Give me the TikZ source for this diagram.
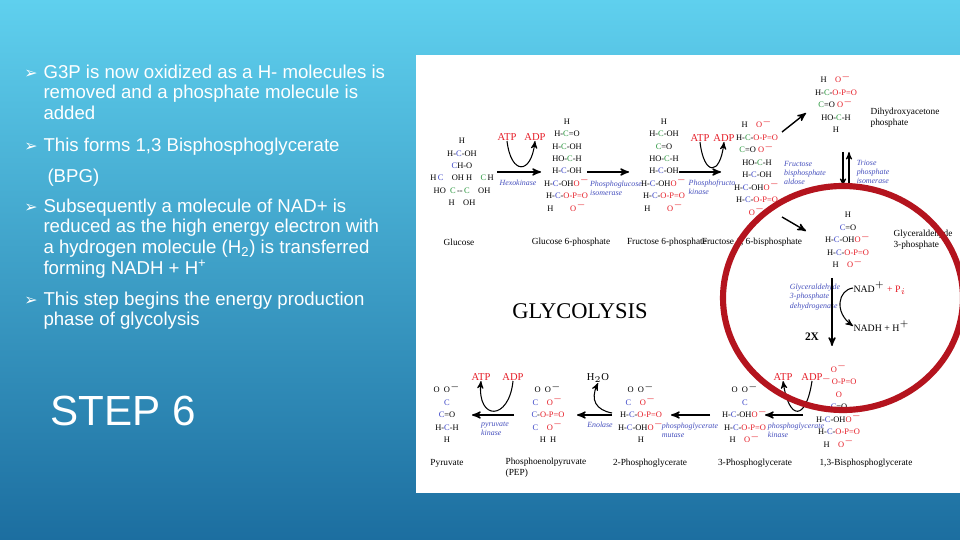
\documentclass[tikz,border=0pt]{standalone}
\usepackage{fontspec}
\setmainfont{Liberation Sans}
\newfontfamily\tms{Liberation Serif}
\newfontfamily\djv{DejaVu Sans}
\usetikzlibrary{arrows}
\definecolor{sky_top}{RGB}{95,208,238}
\definecolor{sky_bot}{RGB}{28,110,160}
\definecolor{c_green}{RGB}{40,150,60}
\definecolor{c_blue}{RGB}{60,70,200}
\definecolor{p_red}{RGB}{230,30,40}
\definecolor{enz_blue}{RGB}{70,80,190}
\definecolor{ring_red}{RGB}{180,20,30}
\newcommand\cg{\textcolor{c_green}{C}}
\newcommand\cb{\textcolor{c_blue}{C}}
\newcommand\rd[1]{\textcolor{p_red}{#1}}
\newcommand\phos{\rd{O-P=O}}
\hyphenpenalty=10000
\begin{document}
\begin{tikzpicture}[x=0.02cm,y=-0.02cm,>=stealth',semithick]
    \tikzstyle{bul}=[text=white,anchor=north west,align=left,inner sep=0,
      font=\fontsize{10.6}{11.9}\selectfont]
    \tikzstyle{mol}=[font=\tms\fontsize{4.8}{7.1}\selectfont,align=center,inner sep=0]
    \tikzstyle{lbl}=[font=\tms\fontsize{5.3}{6.2}\selectfont,align=left,inner sep=0]
    \tikzstyle{enz}=[font=\tms\itshape\fontsize{4.5}{5.2}\selectfont,text=enz_blue,align=left,inner sep=0]
    \tikzstyle{en}=[font=\tms\fontsize{6}{7}\selectfont,text=p_red,inner sep=0]
    \tikzstyle{rx}=[->,thick]

    % background and panel
    \useasboundingbox (0,0) rectangle (960,540);
    \shade[top color=sky_top,bottom color=sky_bot] (0,0) rectangle (960,540);
    \fill[white] (416,55) rectangle (960,493);

    % bullet text
    \foreach \n/\y in {1/64,2/137,3/198,4/291}
      \node[text=white,font=\djv\fontsize{9}{10}\selectfont] (b\n) at (31,\y+10) {➢};
    \node[bul] (t1) at (43,64) {G3P is now oxidized as a H- molecules is\\removed and a phosphate molecule is\\added};
    \node[bul] (t2) at (43,137) {This forms 1,3 Bisphosphoglycerate};
    \node[bul] (t2b) at (47,168) {(BPG)};
    \node[bul] (t3) at (43,198) {Subsequently a molecule of NAD+ is\\reduced as the high energy electron with\\a hydrogen molecule (H\textsubscript{2}) is transferred\\forming NADH + H\textsuperscript{+}};
    \node[bul] (t4) at (43,291) {This step begins the energy production\\phase of glycolysis};
    \node[text=white,font=\fontsize{24}{28}\selectfont] (step6) at (123,411) {STEP 6};

    % upper row
    \node[mol] (glc) at (462,172) {H\\H-\cb-OH\\\cb H-O\\H\,\cb\quad OH H\quad\cg\,H\\HO\ \ \cg\,--\,\cg\quad OH\\H\quad OH};
    \node[lbl] (glcn) at (459,242) {Glucose};
    \node[en] (atp1) at (507,137) {ATP};
    \node[en] (adp1) at (535,137) {ADP};
    \node[enz] (hex) at (518,183) {Hexokinase};
    \node[mol] (g6p) at (567,165) {H\\H-\cg=O\\H-\cg-OH\\HO-\cg-H\\H-\cb-OH\\H-\cb-OH\rd{O$^-$}\\H-\cb-\rd{O-P=O}\\H\qquad\rd{O$^-$}};
    \node[lbl] (g6pn) at (571,242) {Glucose 6-phosphate};
    \node[enz] (pgi) at (616,188) {Phosphoglucose\\isomerase};
    \node[mol] (f6p) at (664,165) {H\\H-\cg-OH\\\cg=O\\HO-\cg-H\\H-\cb-OH\\H-\cb-OH\rd{O$^-$}\\H-\cb-\rd{O-P=O}\\H\qquad\rd{O$^-$}};
    \node[lbl] (f6pn) at (667,242) {Fructose 6-phosphate};
    \node[en] (atp2) at (700,138) {ATP};
    \node[en] (adp2) at (724,138) {ADP};
    \node[enz] (pfk) at (712,187) {Phosphofructo\\kinase};
    \node[mol] (fbp) at (757,167) {H\quad\rd{O$^-$}\\H-\cg-\phos\\\cg=O\ \rd{O$^-$}\\HO-\cg-H\\H-\cb-OH\\H-\cb-OH\rd{O$^-$}\\H-\cb-\phos\\\rd{O$^-$}};
    \node[lbl] (fbpn) at (752,242) {Fructose 1, 6-bisphosphate};
    \node[enz] (ald) at (805,173) {Fructose\\bisphosphate\\aldose};
    \node[mol] (dhap) at (836,103) {H\quad\rd{O$^-$}\\H-\cg-\phos\\\cg=O\ \rd{O$^-$}\\HO-\cg-H\\H};
    \node[lbl] (dhapn) at (905,118) {Dihydroxyacetone\\phosphate};
    \node[enz] (tpi) at (873,172) {Triose\\phosphate\\isomerase};
    \node[mol] (gap) at (848,240) {H\\\cb=O\\H-\cb-OH\rd{O$^-$}\\H-\cb-\phos\\H\quad\rd{O$^-$}};
    \node[lbl] (gapn) at (923,240) {Glyceraldehyde\\3-phosphate};

    \draw[rx] (497,172) -- (541,172);
    \draw[->] (atp1.south) .. controls +(4,34) and +(-4,34) .. (adp1.south);
    \draw[rx] (587,172) -- (629,172);
    \draw[rx] (679,172) -- (721,172);
    \draw[->] (atp2.south) .. controls +(4,34) and +(-4,34) .. (adp2.south);
    \draw[rx] (782,132) -- (806,113);
    \draw[rx] (782,217) -- (806,231);
    \draw[->] (843,152) -- (843,186);
    \draw[->] (849,186) -- (849,152);

    % title
    \node[font=\tms\fontsize{12.8}{15}\selectfont] (title) at (580,311) {GLYCOLYSIS};

    % oxidation step
    \node[enz] (gapdh) at (815,297) {Glyceraldehyde\\3-phosphate\\dehydrogenase};
    \node[font=\tms\fontsize{5.6}{7}\selectfont,anchor=west,inner sep=0] (nad) at (853,288) {NAD$^+$ \rd{+ P$_i$}};
    \node[font=\tms\fontsize{5.6}{7}\selectfont,anchor=west,inner sep=0] (nadh) at (853,326) {NADH + H$^+$};
    \node[font=\tms\bfseries\fontsize{6.5}{8}\selectfont] (twox) at (812,337) {2X};
    \draw[rx] (832,278) -- (832,346);
    \draw[->] (nad.west) .. controls (838,290) and (834,312) .. (nadh.west);

    % lower row
    \node[mol] (bpg) at (839,405) {\rd{O$^-$}\\\rd{$^-$O-P=O}\\\rd{O}\\\cb=O\\H-\cb-OH\rd{O$^-$}\\H-\cb-\phos\\H\quad\rd{O$^-$}};
    \node[lbl] (bpgn) at (866,463) {1,3-Bisphosphoglycerate};
    \node[en] (atp3) at (783,377) {ATP};
    \node[en] (adp3) at (812,377) {ADP};
    \node[enz] (pgk) at (796,430) {phosphoglycerate\\kinase};
    \node[mol] (pg3) at (745,413) {O\ \ O$^-$\\\cb\\H-\cb-OH\rd{O$^-$}\\H-\cb-\phos\\H\quad\rd{O$^-$}};
    \node[lbl] (pg3n) at (755,463) {3-Phosphoglycerate};
    \node[enz] (pgm) at (690,430) {phosphoglycerate\\mutase};
    \node[mol] (pg2) at (641,413) {O\ \ O$^-$\\\cb\quad\rd{O$^-$}\\H-\cb-\phos\\H-\cb-OH\rd{O$^-$}\\H};
    \node[lbl] (pg2n) at (650,463) {2-Phosphoglycerate};
    \node[font=\tms\fontsize{6}{7}\selectfont,inner sep=0] (water) at (598,378) {H$_2$O};
    \node[enz] (eno) at (600,425) {Enolase};
    \node[mol] (pep) at (548,413) {O\ \ O$^-$\\\cb\quad\rd{O$^-$}\\\cb-\phos\\\cb\quad\rd{O$^-$}\\H\ \ H};
    \node[lbl] (pepn) at (546,468) {Phosphoenolpyruvate\\(PEP)};
    \node[en] (atp4) at (481,377) {ATP};
    \node[en] (adp4) at (513,377) {ADP};
    \node[enz] (pk) at (495,429) {pyruvate\\kinase};
    \node[mol] (pyr) at (447,413) {O\ \ O$^-$\\\cb\\\cb=O\\H-\cb-H\\H};
    \node[lbl] (pyrn) at (447,463) {Pyruvate};

    \draw[rx] (803,415) -- (765,415);
    \draw[->] (adp3.south) .. controls +(-6,40) and +(6,40) .. (atp3.south);
    \draw[rx] (710,415) -- (671,415);
    \draw[rx] (612,415) -- (577,415);
    \draw[->] (612,413) .. controls (596,410) and (590,400) .. (water.south);
    \draw[rx] (514,415) -- (472,415);
    \draw[->] (adp4.south) .. controls +(-4,40) and +(-4,40) .. (atp4.south);

    % highlight
    \draw[ring_red,line width=3.5pt] (843,298) ellipse (120 and 112);
\end{tikzpicture}
\end{document}
